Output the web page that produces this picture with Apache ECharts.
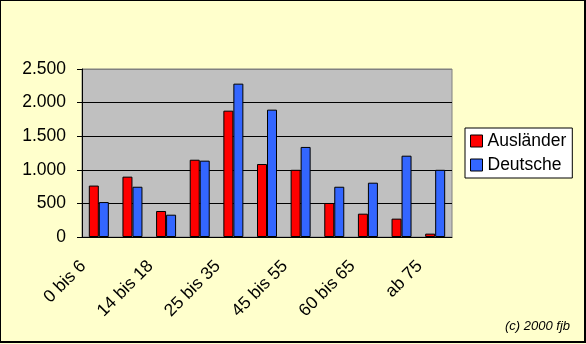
<!DOCTYPE html>
<html>
<head>
<meta charset="utf-8">
<script src="https://cdn.jsdelivr.net/npm/echarts@6/dist/echarts.min.js"></script>
<style>
html,body{margin:0;padding:0;background:#FFFFCC;}
#wrap{position:relative;width:586px;height:344px;}
#chart{position:absolute;left:0;top:0;width:586px;height:344px;}
#frame{position:absolute;left:0;top:0;width:586px;height:343px;box-sizing:border-box;border-left:1px solid #000;border-top:1px solid #000;border-right:2px solid #000;border-bottom:2px solid #000;pointer-events:none;}
</style>
</head>
<body>
<div id="wrap"><div id="chart"></div><div id="frame"></div></div>
<script>
const categories = ['0 bis 6','6 bis 14','14 bis 18','18 bis 25','25 bis 35','35 bis 45','45 bis 55','55 bis 60','60 bis 65','65 bis 75','ab 75'];
const auslaender = [765, 898, 387, 1150, 1880, 1086, 1000, 506, 347, 273, 50];
const deutsche   = [520, 748, 332, 1136, 2282, 1895, 1340, 748, 808, 1210, 1000];
const yTicks = [0, 500, 1000, 1500, 2000, 2500];
const yTickLabels = ['0', '500', '1.000', '1.500', '2.000', '2.500'];
const seriesNames = ['Ausländer', 'Deutsche'];
const credit = '(c) 2000 fjb';

const FONT = '"Liberation Sans", Arial, sans-serif';
const FS = 17.5;
const chart = echarts.init(document.getElementById('chart'), null, {renderer: 'canvas'});
chart.setOption({
  backgroundColor: '#FFFFCC',
  animation: false,
  title: {
    text: credit, right: 11, top: 315,
    textStyle: {fontFamily: FONT, fontSize: 13, fontStyle: 'italic', fontWeight: 'normal', color: '#000'}
  },
  legend: {
    orient: 'vertical', left: 465, top: 128,
    padding: [4, 6, 4, 5],
    backgroundColor: '#FFFFFF', borderColor: '#000', borderWidth: 1,
    itemWidth: 12, itemHeight: 12, itemGap: 6, icon: 'rect',
    itemStyle: {borderColor: '#000', borderWidth: 1},
    textStyle: {fontFamily: FONT, fontSize: FS, color: '#000', lineHeight: 18},
    data: seriesNames
  },
  grid: {
    left: 82, right: 134, top: 69, bottom: 107,
    show: true, backgroundColor: '#C0C0C0', borderColor: '#808080', borderWidth: 1
  },
  xAxis: {
    type: 'category', data: categories, boundaryGap: true,
    axisLine: {lineStyle: {color: '#000', width: 1}},
    axisTick: {interval: 0, length: 5, lineStyle: {color: '#000'}},
    axisLabel: {
      interval: 1, rotate: 45, margin: 11, padding: [0, 22, 0, 0],
      fontFamily: FONT, fontSize: FS, color: '#000'
    }
  },
  yAxis: {
    type: 'value', min: 0, max: 2500, interval: 500,
    axisLine: {show: true, lineStyle: {color: '#000', width: 1}},
    axisTick: {show: true, length: 5, lineStyle: {color: '#000'}},
    axisLabel: {
      margin: 16, fontFamily: FONT, fontSize: FS, color: '#000',
      formatter: v => yTickLabels[yTicks.indexOf(v)]
    },
    splitLine: {show: true, lineStyle: {color: ['#000', '#000', '#000', '#000', '#000', '#808080'], width: 1}}
  },
  series: [
    {
      name: seriesNames[0], type: 'bar', data: auslaender,
      barWidth: 10, barGap: '0%',
      itemStyle: {color: '#FF0000', borderColor: '#000', borderWidth: 1}
    },
    {
      name: seriesNames[1], type: 'bar', data: deutsche,
      barWidth: 10, barGap: '0%',
      itemStyle: {color: '#3366FF', borderColor: '#000', borderWidth: 1}
    }
  ]
});
</script>
</body>
</html>
